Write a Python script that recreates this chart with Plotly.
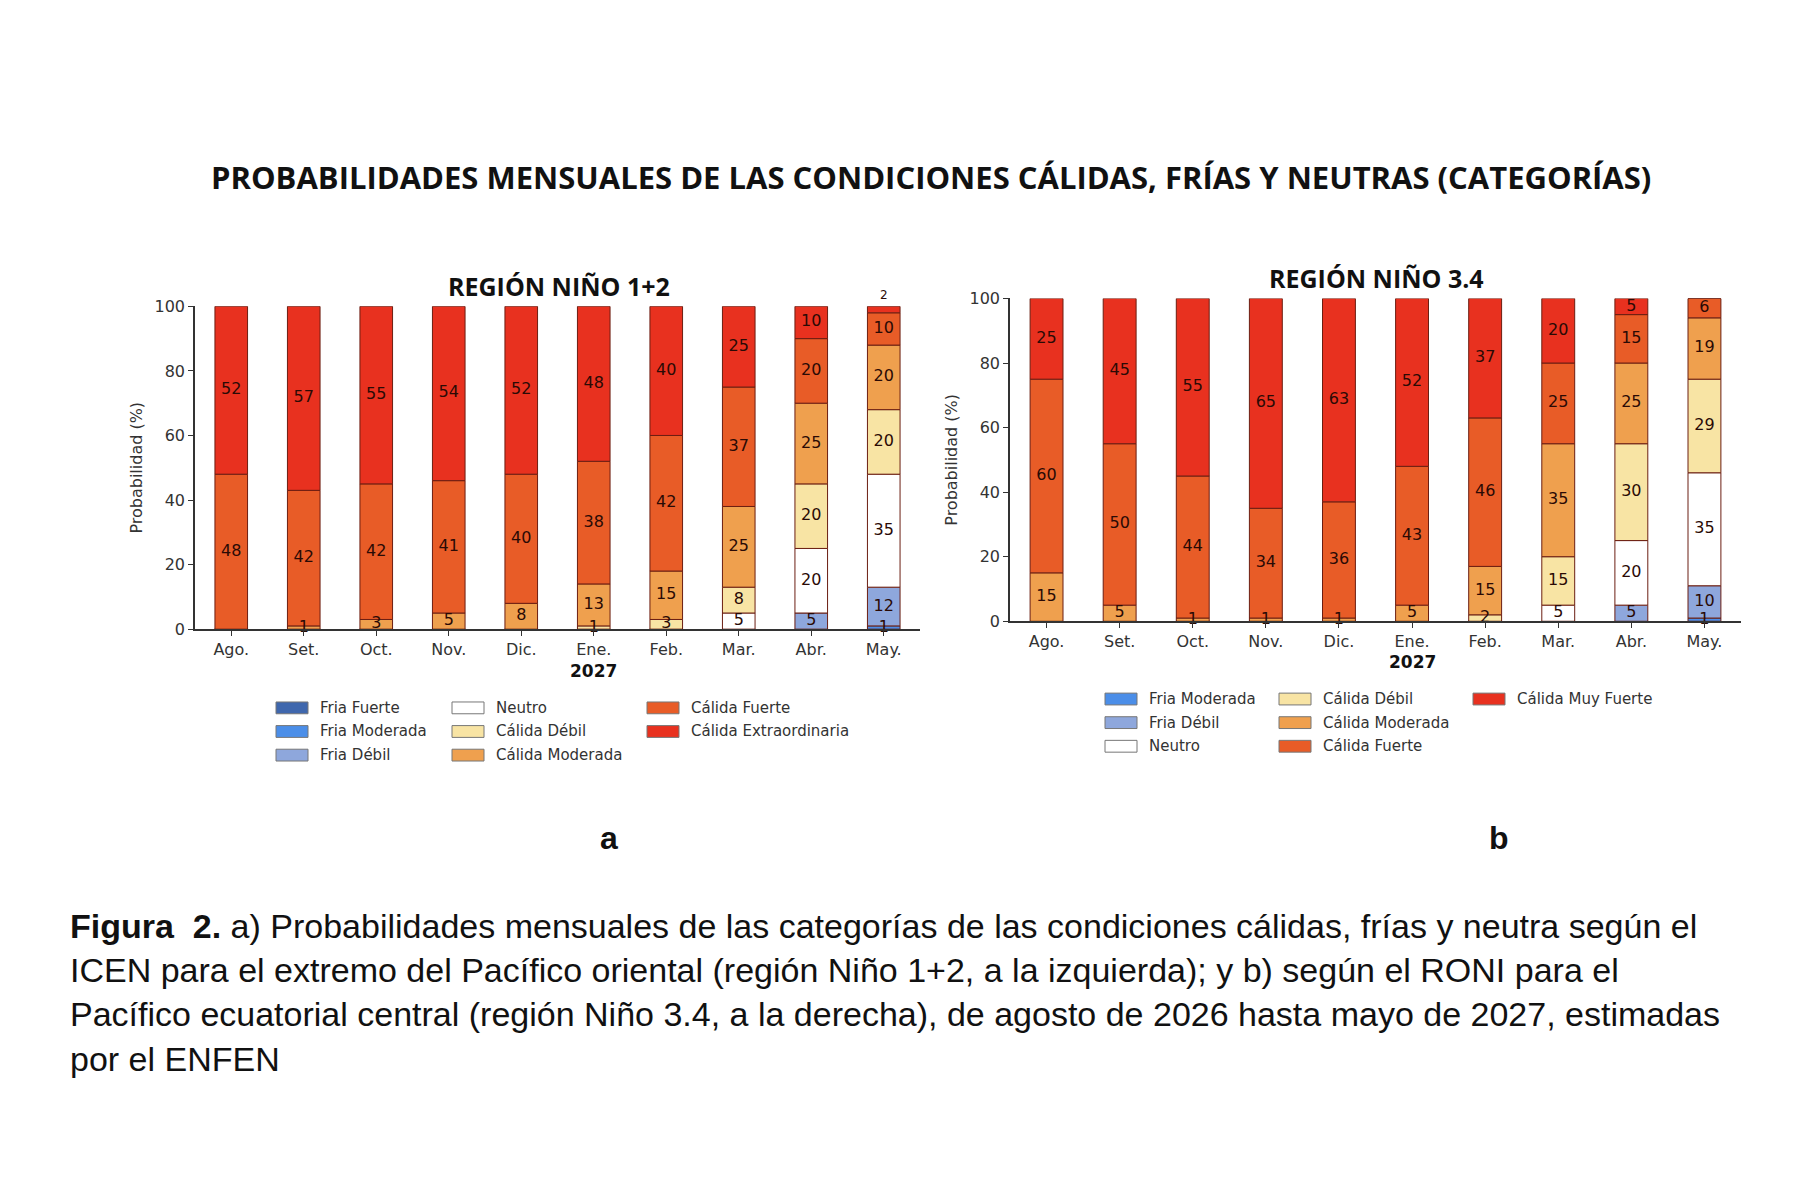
import plotly.graph_objects as go

months = ["Ago.", "Set.", "Oct.", "Nov.", "Dic.", "Ene.", "Feb.", "Mar.", "Abr.", "May."]

# Region Nino 1+2 (ICEN)
cats_a = ["Fria Fuerte", "Fria Moderada", "Fria Débil", "Neutro", "Cálida Débil",
          "Cálida Moderada", "Cálida Fuerte", "Cálida Extraordinaria"]
a_fria_fuerte = [0, 0, 0, 0, 0, 0, 0, 0, 0, 0]
a_fria_moderada = [0, 0, 0, 0, 0, 0, 0, 0, 0, 1]
a_fria_debil = [0, 0, 0, 0, 0, 0, 0, 0, 5, 12]
a_neutro = [0, 0, 0, 0, 0, 0, 0, 5, 20, 35]
a_calida_debil = [0, 0, 0, 0, 0, 1, 3, 8, 20, 20]
a_calida_moderada = [0, 1, 3, 5, 8, 13, 15, 25, 25, 20]
a_calida_fuerte = [48, 42, 42, 41, 40, 38, 42, 37, 20, 10]
a_calida_extra = [52, 57, 55, 54, 52, 48, 40, 25, 10, 2]

# Region Nino 3.4 (RONI)
cats_b = ["Fria Moderada", "Fria Débil", "Neutro", "Cálida Débil",
          "Cálida Moderada", "Cálida Fuerte", "Cálida Muy Fuerte"]
b_fria_moderada = [0, 0, 0, 0, 0, 0, 0, 0, 0, 1]
b_fria_debil = [0, 0, 0, 0, 0, 0, 0, 0, 5, 10]
b_neutro = [0, 0, 0, 0, 0, 0, 0, 5, 20, 35]
b_calida_debil = [0, 0, 0, 0, 0, 0, 2, 15, 30, 29]
b_calida_moderada = [15, 5, 1, 1, 1, 5, 15, 35, 25, 19]
b_calida_fuerte = [60, 50, 44, 34, 36, 43, 46, 25, 15, 6]
b_calida_muy_fuerte = [25, 45, 55, 65, 63, 52, 37, 20, 5, 0]

colors = {
    "Fria Fuerte": "#3f67ad",
    "Fria Moderada": "#4b8ee8",
    "Fria Débil": "#8ea7dc",
    "Neutro": "#ffffff",
    "Cálida Débil": "#f8e4a4",
    "Cálida Moderada": "#efa04e",
    "Cálida Fuerte": "#e85c27",
    "Cálida Extraordinaria": "#e8311f",
    "Cálida Muy Fuerte": "#e8311f",
}

series_a = [a_fria_fuerte, a_fria_moderada, a_fria_debil, a_neutro, a_calida_debil,
            a_calida_moderada, a_calida_fuerte, a_calida_extra]
series_b = [b_fria_moderada, b_fria_debil, b_neutro, b_calida_debil,
            b_calida_moderada, b_calida_fuerte, b_calida_muy_fuerte]

fig = go.Figure()
ann = []


def add_panel(cats, series, xa, ya, above_last=False):
    base = [0] * len(months)
    tx, ty, tt = [], [], []
    for name, vals in zip(cats, series):
        fig.add_trace(go.Bar(
            x=months, y=vals, base=base, name=name, width=0.45,
            marker=dict(color=colors[name], line=dict(color="#6b1e12", width=1)),
            xaxis=xa, yaxis=ya, showlegend=False, hoverinfo="y+name"))
        for i, v in enumerate(vals):
            if v > 0:
                if above_last and v <= 2 and base[i] + v >= 99:
                    # tiny top segment: label above the bar
                    ann.append(dict(text=str(v), x=months[i], y=100, xref=xa, yref=ya,
                                    showarrow=False, yanchor="bottom", yshift=2,
                                    font=dict(family="DejaVu Sans", size=12, color="#2a0a05")))
                    continue
                tx.append(months[i])
                ty.append(base[i] + v / 2)
                tt.append(str(v))
        base = [b + v for b, v in zip(base, vals)]
    fig.add_trace(go.Scatter(
        x=tx, y=ty, text=tt, mode="text", xaxis=xa, yaxis=ya, showlegend=False,
        textfont=dict(family="DejaVu Sans", size=16, color="#2a0a05"),
        hoverinfo="skip", cliponaxis=False))


add_panel(cats_a, series_a, "x", "y", above_last=True)
add_panel(cats_b, series_b, "x2", "y2")

axis_common = dict(showgrid=False, showline=True, linecolor="#333", linewidth=1.5,
                   ticks="outside", tickcolor="#333", tickfont=dict(family="DejaVu Sans", size=16, color="#333"))
ytitle = dict(text="Probabilidad (%)", font=dict(family="DejaVu Sans", size=16, color="#333"), standoff=8)
fig.update_layout(
    width=1800, height=1199, paper_bgcolor="white", plot_bgcolor="white",
    margin=dict(l=0, r=0, t=0, b=0), barmode="overlay",
    xaxis=dict(domain=[187 / 1800, 912 / 1800], anchor="y", **axis_common),
    yaxis=dict(domain=[1 - 622 / 1199, 1 - 294 / 1199], anchor="x", range=[0, 100],
               tickvals=[0, 20, 40, 60, 80, 100], title=ytitle, **axis_common),
    xaxis2=dict(domain=[1002 / 1800, 1733 / 1800], anchor="y2", **axis_common),
    yaxis2=dict(domain=[1 - 614 / 1199, 1 - 286 / 1199], anchor="x2", range=[0, 100],
                tickvals=[0, 20, 40, 60, 80, 100], title=ytitle, **axis_common),
)


def txt(text, x, y, size, family="Open Sans", xref="paper", **kw):
    d = dict(text=text, x=x, y=1 - y / 1199, xref=xref, yref="paper", showarrow=False,
             xanchor="center", yanchor="middle", font=dict(family=family, size=size, color="#111"))
    d.update(kw)
    ann.append(d)


txt("<b>PROBABILIDADES MENSUALES DE LAS CONDICIONES CÁLIDAS, FRÍAS Y NEUTRAS (CATEGORÍAS)</b>",
    0.513, 163, 31)
txt("<b>REGIÓN NIÑO 1+2</b>", 551 / 1800, 273, 25)
txt("<b>REGIÓN NIÑO 3.4</b>", 1368 / 1800, 265, 25)
txt("<b>2027</b>", "Ene.", 665, 17, family="DejaVu Sans", xref="x")
txt("<b>2027</b>", "Ene.", 655, 17, family="DejaVu Sans", xref="x2")
txt("<b>a</b>", 601 / 1800, 834, 32, family="Liberation Sans")
txt("<b>b</b>", 1491 / 1800, 834, 32, family="Liberation Sans")
caption = ("<b>Figura  2.</b> a) Probabilidades mensuales de las categorías de las condiciones cálidas, frías y neutra según el<br>"
           "ICEN para el extremo del Pacífico oriental (región Niño 1+2, a la izquierda); y b) según el RONI para el<br>"
           "Pacífico ecuatorial central (región Niño 3.4, a la derecha), de agosto de 2026 hasta mayo de 2027, estimadas<br>"
           "por el ENFEN")
txt(caption, 60 / 1800, 902, 34, family="Liberation Sans", xanchor="left", yanchor="top", align="left")

shapes = []


def legend(items, cols, y0, rowh):
    # column-major layout, 3 rows
    for k, name in enumerate(items):
        c, r = divmod(k, 3)
        px = cols[c]
        py = y0 + r * rowh
        shapes.append(dict(type="rect", xref="paper", yref="paper",
                           x0=px / 1800, x1=(px + 32) / 1800,
                           y0=1 - (py + 6) / 1199, y1=1 - (py - 6) / 1199,
                           fillcolor=colors[name], line=dict(color="#777", width=1)))
        ann.append(dict(text=name, x=(px + 42) / 1800, y=1 - py / 1199, xref="paper", yref="paper",
                        showarrow=False, xanchor="left", yanchor="middle",
                        font=dict(family="DejaVu Sans", size=15, color="#333")))


legend(cats_a, [268, 444, 639], 702, 24)
legend(cats_b, [1097, 1271, 1465], 693, 24)

fig.update_layout(annotations=ann, shapes=shapes)
fig.write_html("out.html")
